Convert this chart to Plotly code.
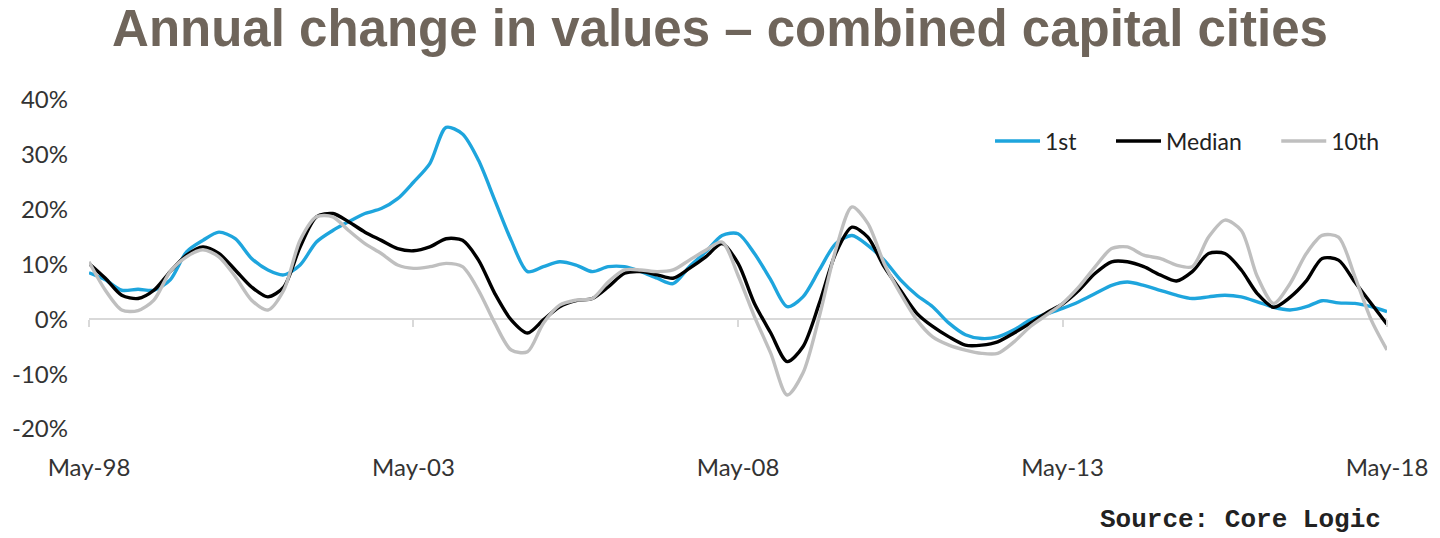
import pandas as pd
import plotly.graph_objects as go

# Quarterly readings, May-1998 .. May-2018 (annual % change)
dates = pd.date_range("1998-05-01", "2018-05-01", freq="3MS")

first = [8.5, 7.2, 5.3, 5.5, 5.3, 7.2, 12.3, 14.4, 15.9, 14.7, 11.1, 9.0, 8.1, 9.9, 14.1, 16.2,
         17.8, 19.3, 20.2, 22.0, 25.0, 28.4, 35.0, 33.8, 29.0, 21.7, 14.4, 8.7, 9.6, 10.5, 9.9, 8.7,
         9.6, 9.6, 8.7, 7.5, 6.5, 9.6, 12.3, 15.3, 15.6, 12.0, 7.2, 2.3, 4.1, 9.0, 13.8, 15.3,
         13.5, 10.8, 7.2, 4.4, 2.3, -0.7, -2.8, -3.5, -3.2, -1.9, -0.1, 1.0, 2.0, 3.2, 4.7, 6.2,
         6.8, 6.2, 5.3, 4.4, 3.8, 4.1, 4.4, 4.1, 3.2, 2.2, 1.7, 2.3, 3.4, 3.0, 2.9, 2.3, 1.4]

median = [10.2, 7.5, 4.4, 3.8, 5.3, 8.7, 11.7, 13.2, 12.0, 9.0, 5.9, 4.1, 5.9, 13.2, 18.7, 19.3,
          17.8, 15.9, 14.4, 12.9, 12.5, 13.2, 14.7, 14.4, 10.8, 4.7, -0.1, -2.5, -0.1, 2.3, 3.4, 3.8,
          5.9, 8.4, 8.7, 8.1, 7.5, 9.3, 11.4, 13.8, 10.2, 2.9, -2.5, -7.7, -5.0, 2.9, 12.0, 16.8,
          15.0, 9.6, 5.3, 1.1, -1.3, -3.2, -4.7, -4.7, -4.1, -2.5, -0.7, 1.2, 2.8, 5.3, 8.4, 10.5,
          10.5, 9.6, 8.1, 7.0, 8.7, 12.0, 12.0, 9.0, 4.7, 2.2, 4.0, 7.0, 11.1, 10.8, 6.8, 2.9, -0.9]

tenth = [10.5, 5.3, 1.7, 1.6, 3.5, 8.7, 11.4, 12.7, 11.4, 7.8, 3.5, 1.7, 5.3, 14.4, 18.7, 18.7,
         16.2, 13.8, 12.0, 9.9, 9.3, 9.6, 10.2, 9.6, 5.3, -0.7, -5.6, -5.9, -0.7, 2.6, 3.5, 3.8,
         6.8, 9.0, 9.0, 8.7, 9.0, 10.8, 12.6, 14.1, 8.0, 0.5, -6.2, -13.8, -9.8, 0.5, 12.6, 20.5,
         17.5, 10.2, 4.7, -0.1, -3.2, -4.7, -5.6, -6.2, -6.2, -4.1, -1.3, 0.8, 2.9, 5.9, 9.6, 12.9,
         13.2, 11.7, 11.1, 9.9, 9.6, 15.0, 18.1, 16.2, 7.8, 2.9, 6.5, 12.0, 15.3, 15.0, 7.8, -0.1, -5.6]

series_names = ["1st", "Median", "10th"]
series_colors = ["#1ea5dd", "#000000", "#bfbfbf"]

tick_dates = ["1998-05-01", "2003-05-01", "2008-05-01", "2013-05-01", "2018-05-01"]
tick_labels = ["May-98", "May-03", "May-08", "May-13", "May-18"]
y_ticks = [-20, -10, 0, 10, 20, 30, 40]
y_labels = ["-20%", "-10%", "0%", "10%", "20%", "30%", "40%"]

PAD = "\u00a0" * 5

fig = go.Figure()
for i, (name, vals, col) in enumerate(zip(series_names, [first, median, tenth], series_colors)):
    label = name + (PAD if i < len(series_names) - 1 else "")
    fig.add_trace(go.Scatter(x=dates, y=vals, name=label, mode="lines",
                             line=dict(color=col, width=3.4, shape="spline", smoothing=0.8)))

# invisible trace to carry the zero-line tick axis
fig.add_trace(go.Scatter(x=dates, y=median, xaxis="x2", mode="lines",
                         line=dict(width=0), opacity=0, showlegend=False, hoverinfo="skip"))

ymin, ymax = -20, 40
fig.update_layout(
    width=1440, height=538,
    margin=dict(l=87, r=47, t=100, b=109),
    paper_bgcolor="white", plot_bgcolor="white",
    font=dict(family="Lato, Liberation Sans, sans-serif", color="#333333"),
    title=dict(text="<b>Annual change in values – combined capital cities</b>",
               x=0.5, xanchor="center", y=1 - 28 / 538, yanchor="middle",
               font=dict(family="Liberation Sans Narrow, Liberation Sans, Arial, sans-serif",
                         size=51, color="#6f655b")),
    xaxis=dict(type="date", range=[tick_dates[0], tick_dates[-1]], showgrid=False,
               showline=False, zeroline=False, ticks="", tickvals=tick_dates,
               ticktext=tick_labels, tickfont=dict(size=24, color="#333333"),
               ticklabelstandoff=22),
    xaxis2=dict(type="date", overlaying="x", matches="x", anchor="free",
                position=(0 - ymin) / (ymax - ymin), showgrid=False, showline=False,
                zeroline=False, ticks="outside", ticklen=7, tickwidth=2,
                tickcolor="#d9d9d9", tickvals=tick_dates, showticklabels=False),
    yaxis=dict(range=[ymin, ymax], showgrid=False, zeroline=True, zerolinecolor="#d9d9d9",
               zerolinewidth=2, showline=False, ticks="", tickvals=y_ticks, ticktext=y_labels,
               tickfont=dict(size=24, color="#333333"), ticklabelstandoff=20),
    legend=dict(orientation="h", x=(1390 - 87) / 1306, xanchor="right", y=(429 - 141) / 329,
                yanchor="middle", font=dict(size=23, color="#222222"),
                bgcolor="rgba(0,0,0,0)", itemwidth=45),
    showlegend=True,
)

fig.add_annotation(text="<b>Source: Core Logic</b>", xref="paper", yref="paper",
                   x=(1389 - 87) / 1306, y=-(520 - 429) / 329, xanchor="right", yanchor="middle",
                   showarrow=False,
                   font=dict(family="Liberation Mono, DejaVu Sans Mono, monospace", size=26,
                             color="#222222"))

fig.write_html("out.html")
